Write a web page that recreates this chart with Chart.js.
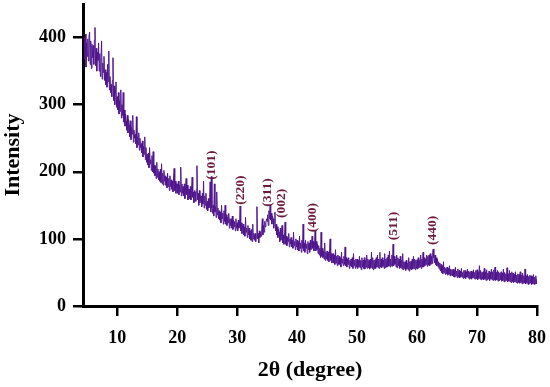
<!DOCTYPE html>
<html><head><meta charset="utf-8">
<script src="https://cdn.jsdelivr.net/npm/chart.js@4/dist/chart.umd.min.js"></script>
<style>html,body{margin:0;padding:0;background:#fff}#wrap{width:550px;height:387px}</style>
</head><body><div id="wrap"><canvas id="c" width="550" height="387"></canvas></div>
<script>
// XRD scan grid (2θ, degrees)
const scanStart = 4.5;
const scanStep = 0.1;
// Intensity, one value per 0.1° (rows = one degree)
const intensity = [
 400,368,405,356,392,
 372,398,365,402,408,360,395,354,390,370,
 388,360,396,415,358,384,350,378,366,392,
 350,376,342,370,395,338,362,348,372,336,
 352,330,348,326,360,334,380,322,342,318,
 330,312,336,370,306,328,300,322,334,296,
 312,292,318,286,306,290,322,280,300,284,
 318,274,292,268,286,276,262,284,258,278,
 270,252,276,248,266,256,284,244,262,250,
 256,242,282,236,252,240,258,232,250,236,
 242,228,246,222,238,226,252,218,236,214,
 226,210,228,206,236,212,218,202,224,200,
 230,198,210,194,208,190,214,192,204,188,
 200,186,204,184,212,182,198,180,202,186,
 194,180,192,176,198,178,190,172,194,178,
 188,174,186,170,192,205,172,186,168,182,
 182,168,186,166,180,170,207,164,182,168,
 178,164,182,160,176,190,166,180,158,174,
 174,160,178,158,172,192,162,170,154,172,
 170,156,174,209,158,168,150,172,154,164,
 164,148,168,152,186,146,164,150,168,144,
 156,142,160,146,152,185,140,193,146,138,
 150,134,182,140,148,132,170,136,146,130,
 142,128,140,124,150,130,138,122,142,126,
 150,122,136,120,132,124,138,116,130,120,
 130,116,134,114,128,118,126,112,130,116,
 124,112,128,116,120,149,112,124,108,120,
 122,106,118,104,132,110,116,102,120,106,
 116,100,112,98,114,96,122,100,108,98,
 108,96,104,148,100,108,94,112,102,110,
 104,116,130,106,120,110,126,118,124,130,
 126,136,120,142,130,150,128,138,122,134,
 130,116,126,140,112,122,106,118,102,114,
 110,96,116,98,108,120,94,106,92,104,
 125,92,104,90,102,96,108,88,100,92,
 102,88,98,86,110,90,96,84,100,88,
 98,84,96,82,104,86,94,80,98,86,
 122,82,94,80,98,86,92,78,96,84,
 94,80,98,84,90,104,86,96,82,90,
 112,82,96,84,92,78,90,76,86,72,
 110,74,86,72,82,70,94,68,80,70,
 82,68,80,66,78,100,68,78,64,76,
 78,64,76,62,84,64,74,60,76,62,
 74,62,72,58,80,64,70,60,74,62,
 88,60,72,58,70,62,72,56,68,60,
 70,58,72,56,78,60,68,56,70,58,
 70,56,68,58,74,57,68,54,72,58,
 68,56,72,55,68,58,76,56,70,57,
 68,55,70,57,80,56,72,54,68,56,
 69,56,72,58,76,57,70,56,80,58,
 70,57,72,59,68,56,78,57,70,58,
 72,58,76,60,82,58,70,60,76,59,
 92,60,74,62,70,58,76,57,72,60,
 70,56,74,57,68,55,78,54,66,56,
 66,53,68,55,64,54,72,52,66,55,
 67,54,70,55,74,56,70,54,68,56,
 69,55,72,57,68,58,76,56,70,58,
 80,58,72,60,70,62,76,59,74,61,
 76,60,78,62,74,63,80,85,72,64,
 76,62,72,60,70,58,66,55,64,52,
 62,50,60,48,66,50,58,47,56,48,
 58,46,56,47,60,45,55,46,54,45,
 55,44,54,43,58,45,52,42,55,43,
 53,42,52,43,56,43,50,41,53,42,
 53,41,51,43,55,42,52,40,51,41,
 52,40,51,42,54,41,50,40,53,41,
 54,39,51,41,60,40,53,39,50,40,
 51,39,56,40,51,38,54,39,49,40,
 52,38,50,40,55,39,51,38,54,39,
 58,38,50,39,53,37,51,38,49,39,
 51,37,49,38,55,36,50,37,48,38,
 57,36,48,37,53,36,49,35,51,36,
 49,35,47,36,51,35,46,34,48,35,
 47,34,51,35,46,33,49,34,45,34,
 55,33,45,34,47,32,44,33,46,34,
 45,32,44,33,47,32,43,33,45,33,
 40
];
const xTickValues = [10, 20, 30, 40, 50, 60, 70, 80];
const yTickValues = [0, 100, 200, 300, 400];
const peakLabels = ['(101)', '(220)', '(311)', '(002)', '(400)', '(511)', '(440)'];
const peakTheta = [25.8, 30.5, 35.1, 37.4, 42.6, 56.0, 62.5];
const peakLabelAnchor = [188, 151, 148, 131, 110, 98, 91];

const points = intensity.map((v, i) => ({ x: scanStart + i * scanStep, y: v }));
const serif = 'Liberation Serif, Times New Roman, serif';

const peakLabelPlugin = {
  id: 'peakLabels',
  afterDatasetsDraw(chart) {
    const { ctx, scales: { x, y } } = chart;
    ctx.save();
    ctx.fillStyle = '#6d1a3e';
    ctx.font = 'bold 13.5px ' + serif;
    ctx.textAlign = 'left';
    ctx.textBaseline = 'middle';
    peakLabels.forEach((t, i) => {
      ctx.save();
      ctx.translate(x.getPixelForValue(peakTheta[i]), y.getPixelForValue(peakLabelAnchor[i]));
      ctx.rotate(-Math.PI / 2);
      ctx.fillText(t, 0, 0);
      ctx.restore();
    });
    ctx.restore();
  }
};

new Chart(document.getElementById('c'), {
  type: 'line',
  data: {
    datasets: [{
      data: points,
      borderColor: '#50168c',
      borderWidth: 1,
      pointRadius: 0,
      tension: 0,
      fill: false
    }]
  },
  options: {
    responsive: false,
    animation: false,
    devicePixelRatio: 1,
    layout: { padding: { top: 4, right: 13, left: 0, bottom: 0 } },
    plugins: { legend: { display: false }, tooltip: { enabled: false } },
    scales: {
      x: {
        type: 'linear', min: 4.3, max: 80,
        afterBuildTicks: s => { s.ticks = xTickValues.map(v => ({ value: v })); },
        afterFit: s => { s.height = 81; s.paddingLeft = 0; s.paddingRight = 0; },
        grid: { drawOnChartArea: false, drawTicks: true, tickLength: 10, color: '#000', lineWidth: 2.5 },
        border: { display: true, color: '#000', width: 3 },
        ticks: { color: '#000', font: { family: serif, weight: 'bold', size: 18 }, padding: 12, maxRotation: 0, autoSkip: false },
        title: { display: true, text: '2θ (degree)', color: '#000', font: { family: serif, weight: 'bold', size: 22 }, padding: { top: 0, bottom: 3 } }
      },
      y: {
        min: 0, max: 450,
        afterBuildTicks: s => { s.ticks = yTickValues.map(v => ({ value: v })); },
        afterFit: s => { s.width = 83; s.paddingTop = 0; s.paddingBottom = 0; },
        grid: { drawOnChartArea: false, drawTicks: true, tickLength: 10, color: '#000', lineWidth: 2.5 },
        border: { display: true, color: '#000', width: 3 },
        ticks: { color: '#000', font: { family: serif, weight: 'bold', size: 18 }, padding: 7, autoSkip: false },
        title: { display: true, text: 'Intensity', color: '#000', font: { family: serif, weight: 'bold', size: 22 }, padding: { top: 0, bottom: 2 } }
      }
    }
  },
  plugins: [peakLabelPlugin]
});
</script>
</body></html>
